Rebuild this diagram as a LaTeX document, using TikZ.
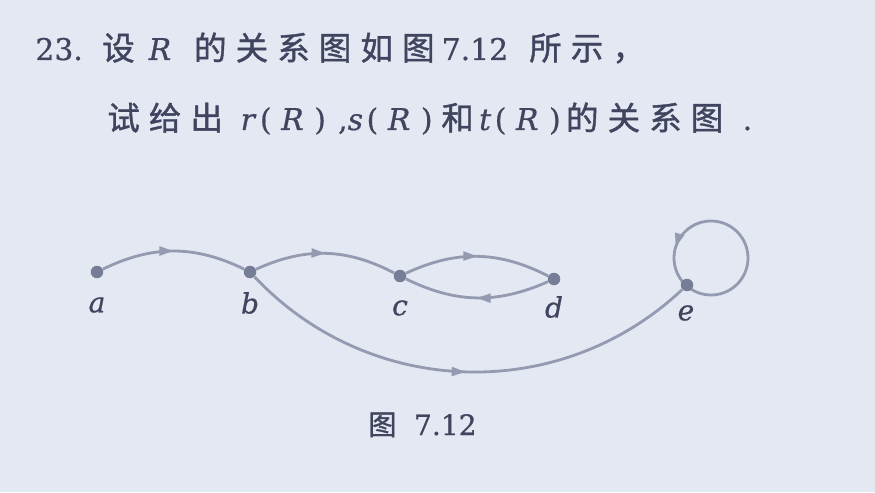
\documentclass[tikz,border=0pt]{standalone}
\usepackage{fontspec}
\setmainfont{DejaVu Serif}[FakeBold=0.6]
\newfontfamily\cjk[LetterSpace=28, FakeBold=1.2]{Noto Sans CJK SC}
\usetikzlibrary{arrows.meta, decorations.markings}
\definecolor{paper}{RGB}{228,232,242}
\definecolor{ink}{RGB}{64,68,94}
\definecolor{edgegray}{RGB}{148,154,176}
\definecolor{dotgray}{RGB}{118,125,150}

\newcommand{\pR}{\hspace{2pt}(\hspace{5.5pt}\textit{R}\hspace{6pt})}
\newcommand{\zh}[1]{{\fontsize{18.5}{20}\cjk #1}}

\tikzset{
  vertex/.style={circle, fill=dotgray, inner sep=0pt, minimum size=0.25cm},
  vlabel/.style={text=ink, font=\fontsize{16}{18}\selectfont\itshape},
  edge/.style={draw=edgegray, line width=1.6pt},
  midarrow/.style={postaction={decorate, decoration={markings,
      mark=at position #1 with {\arrow{Triangle[length=8pt, width=5pt]}}}}},
  midarrow/.default=0.5,
  textline/.style={text=ink, inner sep=0pt, anchor=base west, font=\fontsize{17}{20}\selectfont}
}

\begin{document}
\begin{tikzpicture}
  \fill[paper] (0,0) rectangle (17.5,9.84);
  \useasboundingbox (0,0) rectangle (17.5,9.84);

  % question text
  \node[textline] (line1) at (0.70,8.64)
    {23.\hspace{11pt}\zh{设}\hspace{8pt}\textit{R}\hspace{13pt}\zh{的关系图如图}\hspace{4pt}7.12\hspace{12pt}\zh{所示，}};
  \node[textline] (line2) at (2.14,7.24)
    {\zh{试给出}\hspace{10pt}\textit{r}\pR\hspace{7pt},\textit{s}\pR\hspace{5pt}\zh{和}\hspace{3pt}\textit{t}\pR\hspace{3pt}\zh{的关系图}\hspace{11pt}.};

  % self loop at e (drawn first, so the dot sits on top)
  \coordinate (eloop) at (14.22,4.68);
  \draw[edge, midarrow=0.82] (eloop) ++(228:0.74) arc[start angle=228, end angle=588, radius=0.74];

  % vertices
  \node[vertex] (a) at (1.94,4.40) {};
  \node[vertex] (b) at (5.00,4.40) {};
  \node[vertex] (c) at (8.00,4.32) {};
  \node[vertex] (d) at (11.08,4.26) {};
  \node[vertex] (e) at (13.74,4.14) {};

  \node[vlabel] (la) at (1.94,3.74) {a};
  \node[vlabel] (lb) at (5.00,3.78) {b};
  \node[vlabel] (lc) at (8.00,3.68) {c};
  \node[vlabel] (ld) at (11.08,3.70) {d};
  \node[vlabel] (le) at (13.72,3.58) {e};

  % relation arcs
  \draw[edge, midarrow] (a) to[bend left=26] (b);
  \draw[edge, midarrow] (b) to[bend left=26] (c);
  \draw[edge, midarrow] (c) to[bend left=26] (d);
  \draw[edge, midarrow] (d) to[bend left=25] (c);
  \draw[edge, midarrow] (b) to[bend right=45] (e);

  % caption
  \node[textline, font=\fontsize{16}{18}\selectfont] (cap) at (7.36,1.14)
    {{\fontsize{16}{18}\cjk 图}\hspace{10pt}7.12};
\end{tikzpicture}
\end{document}
